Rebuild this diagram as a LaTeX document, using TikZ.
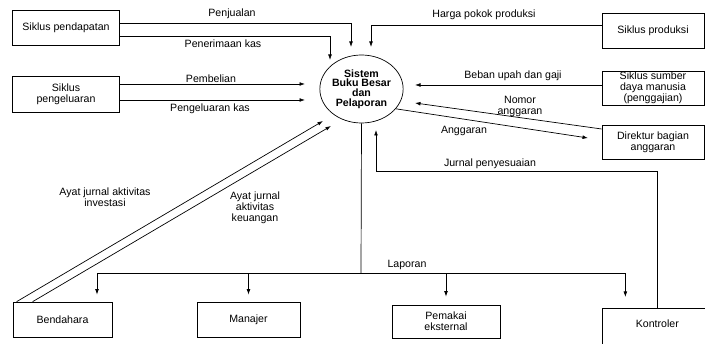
\documentclass[tikz,border=0pt]{standalone}
\usepackage{fontspec}
\setmainfont{Liberation Sans}
\usetikzlibrary{arrows.meta,shapes.geometric}
\begin{document}
\begin{tikzpicture}[x=1pt,y=-1pt]
\tikzset{box/.style = {shape=rectangle,draw,line width=0.7pt,align=center,inner sep=1pt,font=\fontsize{10.6}{11}\selectfont}}
\tikzset{flow/.style = {->,>={Latex[length=5.5pt,width=3.8pt]},line width=0.7pt}}
\tikzset{lbl/.style = {align=center,inner sep=0pt,font=\fontsize{10.6}{11}\selectfont}}
\useasboundingbox (0,0) rectangle (705,344);
% the ledger system in the middle
\node[ellipse,draw,line width=0.7pt,minimum width=83pt,minimum height=68pt,inner sep=0pt,align=center,
  font=\bfseries\fontsize{10.6}{9.8}\selectfont] (sbb) at (361.5,89) {Sistem\\Buku Besar\\dan\\Pelaporan};
% cycles on the left
\node[box,minimum width=107pt,minimum height=35pt] (pendapatan) at (66,27.5) {Siklus pendapatan};
\node[box,minimum width=107pt,minimum height=36pt] (pengeluaran) at (66,94) {Siklus\\pengeluaran};
% cycles on the right
\node[box,minimum width=102pt,minimum height=35pt] (produksi) at (653,30.5) {Siklus produksi};
\node[box,minimum width=102pt,minimum height=34pt] (sdm) at (653,88) {Siklus sumber\\daya manusia\\(penggajian)};
\node[box,minimum width=102pt,minimum height=34pt] (direktur) at (653,142) {Direktur bagian\\anggaran};
% users at the bottom
\node[box,minimum width=99pt,minimum height=35pt] (bendahara) at (62.5,319.5) {Bendahara};
\node[box,minimum width=103pt,minimum height=35pt] (manajer) at (248.5,319.5) {Manajer};
\node[box,minimum width=108pt,minimum height=33pt] (pemakai) at (446,321.5) {Pemakai\\eksternal};
\node[box,draw=none,minimum width=110pt,minimum height=30pt,anchor=north west] (kontroler) at (602,308) {Kontroler};
\draw[line width=0.7pt] (kontroler.north west) rectangle ++(130,60);
% free ends of the arrows
\coordinate (pjEnd) at (351,47);
\coordinate (pkEnd) at (330,60);
\coordinate (pbEnd) at (305,84);
\coordinate (plEnd) at (305,100);
\coordinate (hpEnd) at (371,47);
\coordinate (buEnd) at (415,85);
\coordinate (naEnd) at (415,103);
\coordinate (agEnd) at (588,138);
\coordinate (jpBend) at (376,171);
\coordinate (jpEnd) at (376,130);
\coordinate (lapJoin) at (361,273);
\coordinate (invEnd) at (323,121);
\coordinate (keuEnd) at (331,126);
% flows into the system
\draw[flow] ([yshift=4.5pt]pendapatan.east) -| (pjEnd);
\draw[flow] ([yshift=-8.5pt]pendapatan.east) -| (pkEnd);
\draw[flow] ([yshift=10pt]pengeluaran.east) -- (pbEnd);
\draw[flow] ([yshift=-6pt]pengeluaran.east) -- (plEnd);
\draw[flow] ([yshift=5.5pt]produksi.west) -| (hpEnd);
\draw[flow] ([yshift=3pt]sdm.west) -- (buEnd);
\draw[flow] ([yshift=13pt]direktur.west) -- (naEnd);
\draw[flow] (sbb.-30) -- (agEnd);
\draw[flow] (kontroler.north) |- (jpBend) -- (jpEnd);
\draw[flow] ([xshift=4pt]bendahara.north west) -- (invEnd);
\draw[flow] ([xshift=20pt]bendahara.north west) -- (keuEnd);
% reports going out
\draw[line width=0.7pt] (sbb.south) -- (lapJoin);
\draw[flow,shorten >=7pt] (lapJoin) -| ([xshift=34.5pt]bendahara.north);
\draw[flow,shorten >=7pt] (lapJoin) -| (manajer.north);
\draw[flow,shorten >=8pt] (lapJoin) -| (pemakai.north);
\draw[flow,shorten >=11pt] (lapJoin) -| ([xshift=-32pt]kontroler.north);
% labels
\node[lbl] (lPenjualan) at (232,14) {Penjualan};
\node[lbl] (lPenerimaan) at (223,44) {Penerimaan kas};
\node[lbl] (lPembelian) at (211,79) {Pembelian};
\node[lbl] (lPengeluaran) at (210,109) {Pengeluaran kas};
\node[lbl] (lHarga) at (484,15) {Harga pokok produksi};
\node[lbl] (lBeban) at (513,76) {Beban upah dan gaji};
\node[lbl] (lNomor) at (520,106) {Nomor\\anggaran};
\node[lbl] (lAnggaran) at (464,131) {Anggaran};
\node[lbl] (lJurnal) at (490,164) {Jurnal penyesuaian};
\node[lbl] (lLaporan) at (407,265) {Laporan};
\node[lbl] (lInvestasi) at (105,197) {Ayat jurnal aktivitas\\investasi};
\node[lbl] (lKeuangan) at (255,208) {Ayat jurnal\\aktivitas\\keuangan};
\end{tikzpicture}
\end{document}
